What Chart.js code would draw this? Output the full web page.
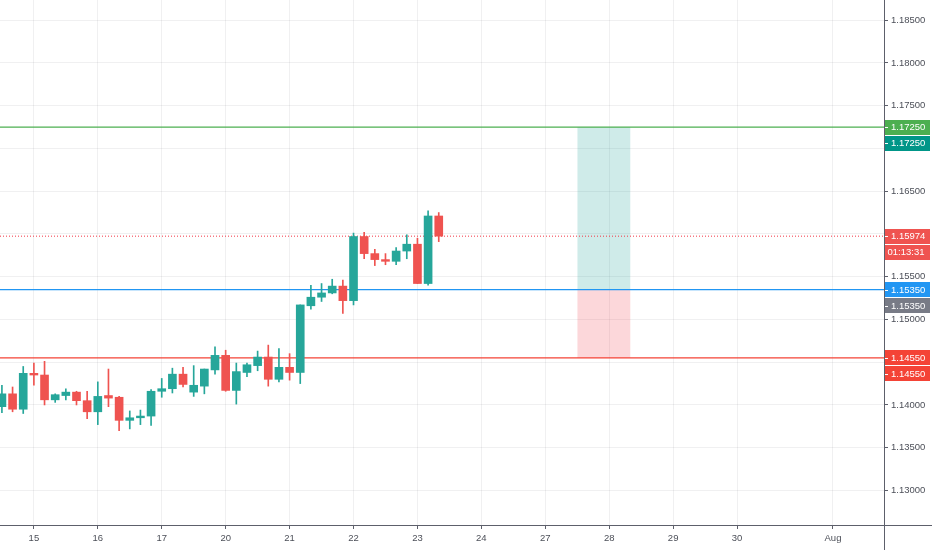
<!DOCTYPE html>
<html>
<head>
<meta charset="utf-8">
<script src="https://cdn.jsdelivr.net/npm/chart.js@4.4.1/dist/chart.umd.min.js"></script>
<style>
html,body{margin:0;padding:0;background:#fff;}
#wrap{position:relative;width:932px;height:550px;}
</style>
</head>
<body>
<div id="wrap"><canvas id="c"></canvas></div>
<script>
// ---- data ----
const dayTicks  = [0, 6, 12, 18, 24, 30, 36, 42, 48, 54, 60, 66, 75];
const dayLabels = ['15','16','17','20','21','22','23','24','27','28','29','30','Aug'];
const priceTicks = [1.130, 1.135, 1.140, 1.145, 1.150, 1.155, 1.160, 1.165, 1.170, 1.175, 1.180, 1.185];
const firstBar = -3; // bar index of the first (partly visible) candle

const opens  = [1.1398,1.1413,1.1395,1.1437,1.1435,1.1406,1.1411,1.1415,1.1405,1.1392,1.1411,1.1409,1.1382,1.1385,1.1387,1.1416,1.1419,1.1436,1.1415,1.1422,1.1441,1.1458,1.1417,1.1438,1.1446,1.1456,1.1430,1.1444,1.1438,1.1516,1.1526,1.1531,1.1539,1.1522,1.1597,1.1577,1.1570,1.1568,1.1580,1.1588,1.1542,1.1621];
const highs  = [1.1423,1.1421,1.1445,1.1449,1.1451,1.1413,1.1419,1.1416,1.1416,1.1427,1.1442,1.1410,1.1393,1.1394,1.1418,1.1431,1.1443,1.1444,1.1446,1.1442,1.1468,1.1464,1.1449,1.1449,1.1463,1.1470,1.1466,1.1460,1.1517,1.1540,1.1542,1.1547,1.1546,1.1601,1.1602,1.1582,1.1577,1.1584,1.1599,1.1595,1.1627,1.1625];
const lows   = [1.1391,1.1392,1.1390,1.1423,1.1400,1.1403,1.1406,1.1400,1.1384,1.1377,1.1398,1.1370,1.1372,1.1377,1.1376,1.1409,1.1414,1.1421,1.1410,1.1413,1.1436,1.1416,1.1401,1.1433,1.1440,1.1422,1.1427,1.1429,1.1425,1.1512,1.1521,1.1530,1.1507,1.1517,1.1571,1.1563,1.1564,1.1564,1.1571,1.1542,1.1540,1.1591];
const closes = [1.1413,1.1395,1.1437,1.1435,1.1406,1.1412,1.1415,1.1405,1.1392,1.1410,1.1408,1.1382,1.1385,1.1387,1.1416,1.1419,1.1436,1.1424,1.1423,1.1442,1.1458,1.1417,1.1439,1.1447,1.1456,1.1430,1.1444,1.1438,1.1517,1.1526,1.1531,1.1539,1.1522,1.1597,1.1577,1.1570,1.1568,1.1580,1.1588,1.1542,1.1621,1.15974];

const targetPrice = 1.1725;
const entryPrice  = 1.1535;
const stopPrice   = 1.1455;
const positionStart = 51;  // bar index where the long-position tool starts
const positionEnd   = 56;  // bar index where it ends
const countdownText = '01:13:31';

const xMin = -3.18, xMax = 79.79;
const yMin = 1.12596, yMax = 1.18736;

// ---- styles ----
const UP = '#26a69a', DOWN = '#ef5350';
const FONT = "'Liberation Sans', Arial, sans-serif";
const FSIZE = 9.5;
const TEXT = '#4c4f58';
const AXIS = '#5d606b';
const GRID = 'rgba(42,46,57,0.07)';

const lastClose = closes[closes.length - 1];
const barX = i => firstBar + i;
const candleColor = i => closes[i] >= opens[i] ? UP : DOWN;

const bodies = opens.map((o, i) => ({x: barX(i), y: [o, closes[i]]}));
const wicks  = lows.map((l, i) => ({x: barX(i), y: [l, highs[i]]}));
const hline  = p => [{x: xMin, y: p}, {x: xMax, y: p}];
const boxLine = p => [{x: positionStart, y: p}, {x: positionEnd, y: p}];

// price-axis labels (value, text, colour); stacked when they collide
const axisLabels = [
  {value: targetPrice, text: targetPrice.toFixed(5), color: '#4caf50'},
  {value: targetPrice, text: targetPrice.toFixed(5), color: '#009688'},
  {value: lastClose,   text: lastClose.toFixed(5),   color: '#ef5350'},
  {value: lastClose,   text: countdownText,          color: '#ef5350', center: true},
  {value: entryPrice,  text: entryPrice.toFixed(5),  color: '#2196f3'},
  {value: entryPrice,  text: entryPrice.toFixed(5),  color: '#787b86'},
  {value: stopPrice,   text: stopPrice.toFixed(5),   color: '#f44336'},
  {value: stopPrice,   text: stopPrice.toFixed(5),   color: '#f44336'}
];

const overlayPlugin = {
  id: 'overlay',
  afterDraw(chart) {
    const ctx = chart.ctx, ys = chart.scales.y, area = chart.chartArea;
    const W = chart.width, H = chart.height;
    ctx.save();
    // axis frame lines
    ctx.strokeStyle = AXIS; ctx.lineWidth = 1;
    ctx.beginPath();
    ctx.moveTo(0, Math.round(area.bottom) + 0.5); ctx.lineTo(W, Math.round(area.bottom) + 0.5);
    ctx.moveTo(Math.round(area.right) + 0.5, 0); ctx.lineTo(Math.round(area.right) + 0.5, H);
    ctx.stroke();
    // labels
    ctx.font = FSIZE + 'px ' + FONT;
    ctx.textBaseline = 'middle';
    let prev = -1e9;
    const left = Math.round(area.right) + 1;
    axisLabels.forEach(l => {
      let y = ys.getPixelForValue(l.value);
      if (y < prev + 16) y = prev + 16;
      prev = y;
      ctx.fillStyle = l.color;
      ctx.fillRect(left, Math.round(y - 7.5), 45, 15);
      ctx.fillStyle = '#ffffff';
      if (l.center) {
        ctx.textAlign = 'center';
        ctx.fillText(l.text, left + 21, y + 0.5);
      } else {
        ctx.fillRect(left, Math.round(y), 3, 1);
        ctx.textAlign = 'left';
        ctx.fillText(l.text, left + 6, y + 0.5);
      }
    });
    ctx.restore();
  }
};

Chart.defaults.font.family = FONT;
Chart.defaults.font.size = FSIZE;
Chart.defaults.color = TEXT;

const lineDs = (data, color, extra) => Object.assign({
  type: 'line', data, borderColor: color, borderWidth: 1.25, pointRadius: 0, fill: false, order: 5
}, extra || {});
const boxDs = (data, fill, bg, order) => ({
  type: 'line', data, borderColor: 'rgba(0,0,0,0)', borderWidth: 1, pointRadius: 0,
  fill, backgroundColor: bg || 'rgba(0,0,0,0)', order
});

new Chart(document.getElementById('c'), {
  type: 'bar',
  data: {
    datasets: [
      {type: 'bar', data: bodies, grouped: false, barThickness: 8, minBarLength: 1,
       backgroundColor: c => candleColor(c.dataIndex), borderWidth: 0, order: 1},
      {type: 'bar', data: wicks, grouped: false, barThickness: 1,
       backgroundColor: c => candleColor(c.dataIndex), borderWidth: 0, order: 2},
      lineDs(hline(targetPrice), '#4caf50'),
      lineDs(hline(entryPrice), '#2196f3'),
      lineDs(hline(stopPrice), '#f44336'),
      lineDs(hline(lastClose), '#f23645', {borderDash: [1, 2], borderWidth: 1}),
      boxDs(boxLine(targetPrice), '+1', 'rgba(38,166,154,0.22)', 10),
      boxDs(boxLine(entryPrice), false, null, 11),
      boxDs(boxLine(entryPrice), '+1', 'rgba(242,54,69,0.2)', 12),
      boxDs(boxLine(stopPrice), false, null, 13)
    ]
  },
  options: {
    responsive: true,
    maintainAspectRatio: false,
    animation: false,
    layout: {padding: 0},
    plugins: {legend: {display: false}, tooltip: {enabled: false}},
    scales: {
      x: {
        type: 'linear', min: xMin, max: xMax, offset: false,
        grid: {color: GRID, offset: false, tickLength: 4, tickColor: AXIS, drawOnChartArea: true},
        border: {display: false},
        afterBuildTicks: axis => { axis.ticks = dayTicks.map(v => ({value: v})); },
        afterFit: axis => { axis.height = 25; axis.paddingLeft = 0; axis.paddingRight = 0; },
        ticks: {
          autoSkip: false, maxRotation: 0, padding: 4,
          callback: v => { const k = dayTicks.indexOf(v); return k >= 0 ? dayLabels[k] : ''; }
        }
      },
      y: {
        type: 'linear', position: 'right', min: yMin, max: yMax,
        grid: {color: GRID, tickLength: 4, tickColor: AXIS},
        border: {display: false},
        afterBuildTicks: axis => { axis.ticks = priceTicks.map(v => ({value: v})); },
        afterFit: axis => { axis.width = 48; axis.paddingTop = 0; axis.paddingBottom = 0; },
        ticks: {padding: 3, callback: v => Number(v).toFixed(5)}
      }
    }
  },
  plugins: [overlayPlugin]
});
</script>
</body>
</html>
